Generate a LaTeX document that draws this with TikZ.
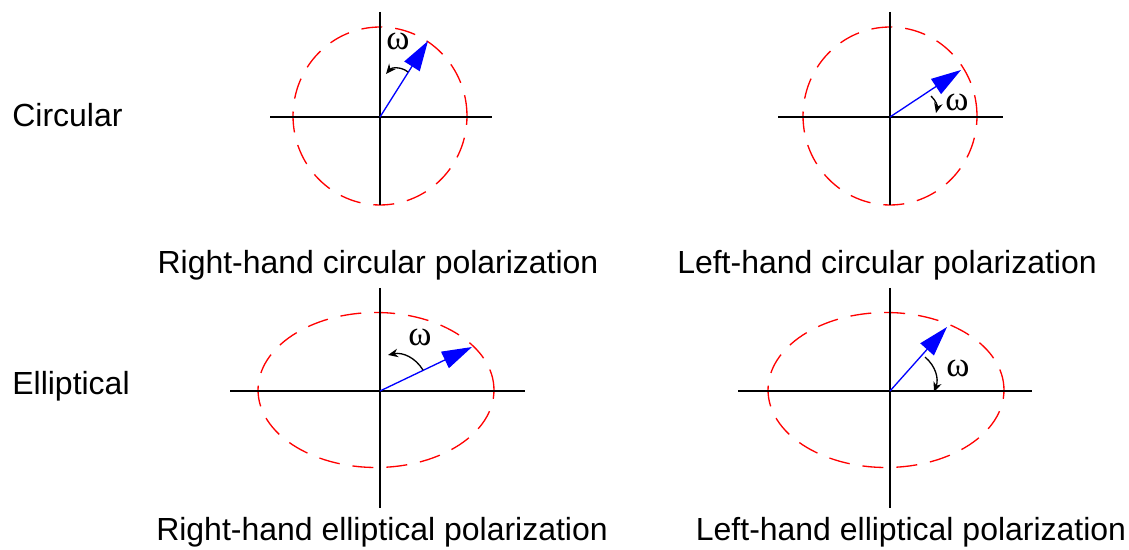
\documentclass[tikz,border=0pt]{standalone}
\usepackage{fontspec}
\setmainfont{Liberation Sans}
\newfontfamily\greekfont{Liberation Serif}
\usetikzlibrary{arrows.meta}

\begin{document}
\begin{tikzpicture}[
  x=0.02cm, y=-0.02cm,
  axis/.style={line width=1.4pt},
  orbit/.style={red, line width=0.75pt, dash pattern=on 0.42cm off 0.26cm},
  vec/.style={blue, line width=0.75pt, -{Triangle[length=0.6cm, width=0.36cm]}},
  spin/.style={line width=0.75pt, -{Stealth[length=0.2cm, width=0.17cm]}},
  lbl/.style={font=\fontsize{18.2}{22}\selectfont, inner sep=0pt},
  om/.style={font=\greekfont\fontsize{20}{22}\selectfont, inner sep=0pt}
]
  \useasboundingbox (0,0) rectangle (1129,550);

  % row labels
  \node[lbl, anchor=west] (circ) at (12,115) {Circular};
  \node[lbl, anchor=west] (ell) at (12,386) {Elliptical};

  % right-hand circular
  \coordinate (o1) at (380,117);
  \draw[orbit] (380,116) ellipse [x radius=1.74cm, y radius=1.78cm];
  \draw[axis] (270,117) -- (492,117);
  \draw[axis] (380,12) -- (380,205);
  \coordinate (t1) at (428,41);
  \draw[vec] (o1) -- (t1);
  \coordinate (a1) at (408,72);
  \coordinate (b1) at (386,74);
  \draw[spin] (a1) to[bend right=45] (b1);
  \node[om] (w1) at (398,41) {ω};
  \node[lbl] (cap1) at (378,265) {Right-hand circular polarization};

  % left-hand circular
  \coordinate (o2) at (890,117);
  \draw[orbit] (890,116) ellipse [x radius=1.74cm, y radius=1.78cm];
  \draw[axis] (778,117) -- (1003,117);
  \draw[axis] (890,12) -- (890,205);
  \coordinate (t2) at (961,70);
  \draw[vec] (o2) -- (t2);
  \coordinate (a2) at (931,96);
  \coordinate (b2) at (936,113);
  \draw[spin] (a2) to[bend left=30] (b2);
  \node[om] (w2) at (957,102) {ω};
  \node[lbl] (cap2) at (887,265) {Left-hand circular polarization};

  % right-hand elliptical
  \coordinate (o3) at (380,391);
  \draw[orbit] (376,390) ellipse [x radius=2.36cm, y radius=1.55cm];
  \draw[axis] (230,391) -- (525,391);
  \draw[axis] (380,288) -- (380,508);
  \coordinate (t3) at (472,347);
  \draw[vec] (o3) -- (t3);
  \coordinate (a3) at (423,370);
  \coordinate (b3) at (388,355);
  \draw[spin] (a3) to[bend right=35] (b3);
  \node[om] (w3) at (420,337) {ω};
  \node[lbl] (cap3) at (382,532) {Right-hand elliptical polarization};

  % left-hand elliptical
  \coordinate (o4) at (890,391);
  \draw[orbit] (886,390) ellipse [x radius=2.36cm, y radius=1.55cm];
  \draw[axis] (738,391) -- (1032,391);
  \draw[axis] (890,288) -- (890,508);
  \coordinate (t4) at (947,327);
  \draw[vec] (o4) -- (t4);
  \coordinate (a4) at (925,357);
  \coordinate (b4) at (934,392);
  \draw[spin] (a4) to[bend left=35] (b4);
  \node[om] (w4) at (958,368) {ω};
  \node[lbl] (cap4) at (911,532) {Left-hand elliptical polarization};
\end{tikzpicture}
\end{document}
